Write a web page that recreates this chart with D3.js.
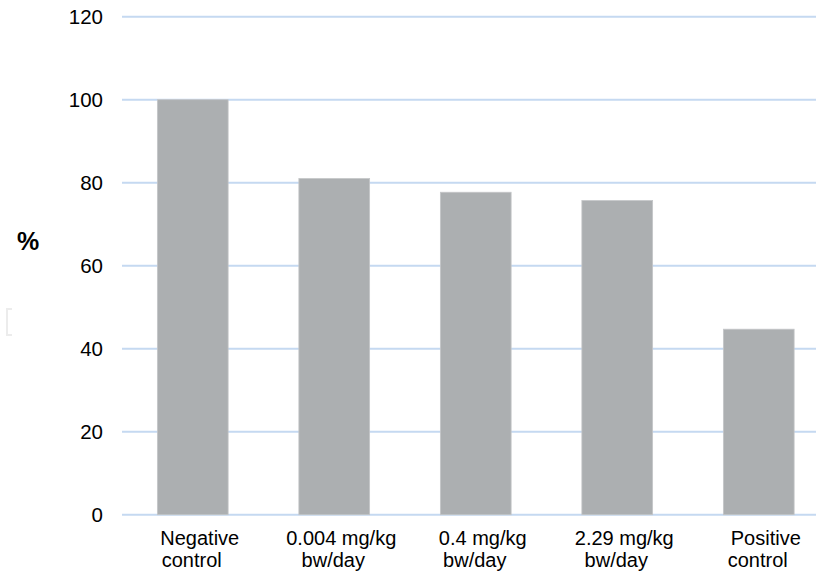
<!DOCTYPE html>
<html>
<head>
<meta charset="utf-8">
<script src="https://cdn.jsdelivr.net/npm/d3@7"></script>
<style>
  html, body { margin: 0; padding: 0; background: #fff; }
  svg { display: block; font-family: "Liberation Sans", Arial, sans-serif; }
</style>
</head>
<body>
<div id="chart"></div>
<script>
// data
var categories = ['Negative control', '0.004 mg/kg bw/day', '0.4 mg/kg bw/day', '2.29 mg/kg bw/day', 'Positive control'];
var labelLines = [['Negative', 'control'], ['0.004 mg/kg', 'bw/day'], ['0.4 mg/kg', 'bw/day'], ['2.29 mg/kg', 'bw/day'], ['Positive', 'control']];
var values = [100, 81.0, 77.7, 75.7, 44.7];
var yTicks = [0, 20, 40, 60, 80, 100, 120];

var width = 816, height = 577;
var gridLeft = 122, gridRight = 816;
var yTop = 16.7, yBottom = 514.7;

var svg = d3.select('#chart').append('svg')
    .attr('width', width)
    .attr('height', height);

var x = d3.scaleBand()
    .domain(categories)
    .range([122, 829.5])
    .paddingInner(0.5)
    .paddingOuter(0.25);

var y = d3.scaleLinear()
    .domain([0, 120])
    .range([yBottom, yTop]);

// gridlines
svg.append('g').selectAll('line')
    .data(yTicks)
    .enter()
    .append('line')
    .attr('x1', gridLeft)
    .attr('x2', gridRight)
    .attr('y1', function(d) { return y(d); })
    .attr('y2', function(d) { return y(d); })
    .attr('stroke', '#c5d9f1')
    .attr('stroke-width', 2);

// y axis labels
var yAxis = d3.axisLeft(y)
    .tickValues(yTicks)
    .tickSize(0)
    .tickPadding(19);
var yg = svg.append('g')
    .attr('transform', 'translate(' + gridLeft + ',0)')
    .call(yAxis);
yg.select('.domain').remove();
yg.selectAll('text')
    .attr('font-size', 20.5)
    .attr('dy', '0.34em')
    .attr('font-family', '"Liberation Sans", Arial, sans-serif')
    .attr('fill', '#000');

// bars
svg.append('g').selectAll('rect')
    .data(values)
    .enter()
    .append('rect')
    .attr('x', function(d, i) { return x(categories[i]); })
    .attr('y', function(d) { return y(d); })
    .attr('width', x.bandwidth())
    .attr('height', function(d) { return y(0) - y(d); })
    .attr('fill', '#acafb1')
    .attr('stroke', '#c4c6c8')
    .attr('stroke-width', 0.8);

// category labels, one text per line
svg.append('g').selectAll('g')
    .data(labelLines)
    .enter()
    .append('g')
    .each(function(lines, i) {
      var cx = x(categories[i]) + x.bandwidth() / 2;
      var g = d3.select(this);
      lines.forEach(function(line, j) {
        g.append('text')
          .attr('x', cx + (j === 0 ? 7 : -1))
          .attr('y', 545 + j * 21.5)
          .attr('text-anchor', 'middle')
          .attr('font-size', 20)
          .attr('fill', '#000')
          .text(line);
      });
    });

// y axis title
svg.append('text')
    .attr('x', 28)
    .attr('y', 250)
    .attr('text-anchor', 'middle')
    .attr('font-size', 25)
    .attr('font-weight', 'bold')
    .attr('fill', '#000')
    .text('%');

// faint bracket artifact at left edge
svg.append('path')
    .attr('d', 'M12,309 L7,309 L7,335 L12,335')
    .attr('fill', 'none')
    .attr('stroke', '#ececec')
    .attr('stroke-width', 2);
</script>
</body>
</html>
